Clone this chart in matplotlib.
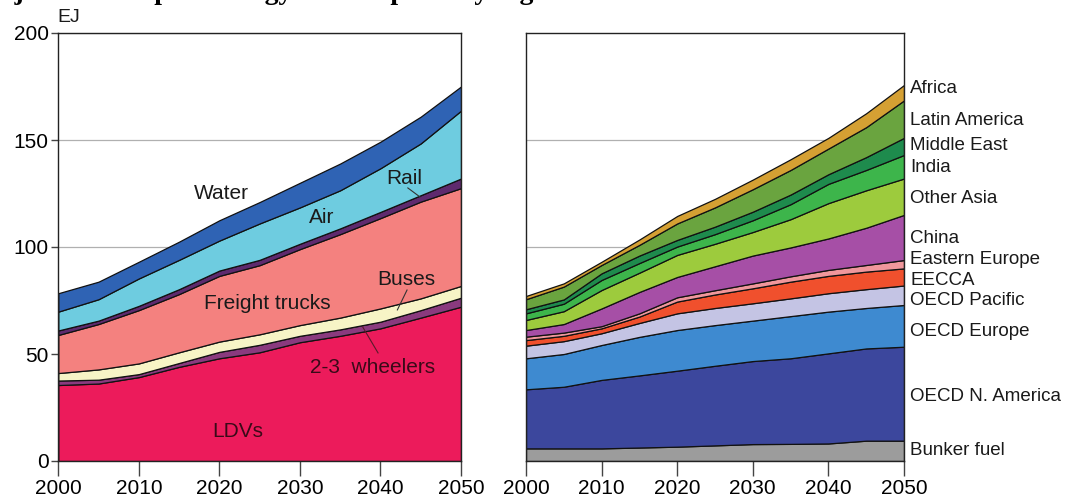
import matplotlib
matplotlib.use("Agg")
import matplotlib.pyplot as plt
import numpy as np

years = [2000, 2005, 2010, 2015, 2020, 2025, 2030, 2035, 2040, 2045, 2050]

# Left panel: by mode (EJ)
sector_names = ["LDVs", "2-3 wheelers", "Buses", "Freight trucks", "Rail", "Air", "Water"]
ldvs    = [35.5, 36.2, 39.2, 44.0, 48.0, 50.8, 55.5, 58.5, 62.0, 67.0, 72.1]
wheel23 = [2.1, 1.8, 1.4, 1.8, 3.0, 3.5, 3.0, 3.0, 3.1, 3.5, 4.2]
buses   = [3.5, 4.8, 5.0, 5.0, 4.8, 4.9, 5.0, 5.5, 6.2, 5.5, 5.5]
freight = [17.8, 21.2, 24.9, 27.2, 30.7, 32.3, 35.5, 39.0, 42.2, 45.2, 45.7]
rail    = [2.1, 1.6, 2.0, 2.3, 2.5, 2.5, 2.5, 2.7, 2.9, 3.0, 4.5]
air     = [8.8, 10.0, 12.8, 13.7, 14.0, 17.0, 17.0, 17.8, 20.4, 24.2, 31.7]
water   = [8.6, 8.2, 7.8, 8.5, 9.5, 10.0, 11.5, 12.5, 12.4, 12.5, 11.3]
sector_colors = ["#EC1B5B", "#8A3A7E", "#F7F4C6", "#F4817F", "#5E2A6E", "#6ECCE0", "#2F63B4"]

# Right panel: by region (EJ)
region_names = ["Bunker fuel", "OECD N. America", "OECD Europe", "OECD Pacific", "EECCA",
                "Eastern Europe", "China", "Other Asia", "India", "Middle East",
                "Latin America", "Africa"]
bunker  = [5.9, 5.9, 5.9, 6.3, 6.7, 7.3, 7.9, 8.0, 8.2, 9.5, 9.5]
oecd_na = [27.6, 28.8, 32.0, 33.7, 35.5, 37.2, 38.8, 40.0, 42.1, 43.1, 43.9]
oecd_eu = [14.5, 15.3, 16.3, 18.0, 19.0, 19.0, 18.9, 19.7, 19.5, 18.9, 19.5]
oecd_pa = [5.9, 6.0, 5.5, 6.5, 7.8, 8.0, 8.1, 8.3, 8.6, 8.8, 9.1]
eecca   = [2.6, 2.5, 2.3, 3.0, 5.5, 6.3, 7.0, 7.8, 8.1, 8.2, 8.0]
east_eu = [1.6, 1.5, 1.0, 1.5, 2.0, 2.0, 2.3, 2.5, 2.8, 3.1, 3.9]
china   = [3.1, 4.0, 8.3, 10.0, 9.5, 11.2, 13.0, 13.5, 14.7, 17.4, 21.1]
oth_asia = [4.7, 6.0, 8.6, 9.0, 10.3, 10.5, 11.0, 13.2, 16.5, 17.5, 17.0]
india   = [3.1, 3.5, 4.7, 4.5, 3.9, 4.5, 5.5, 7.0, 9.0, 9.5, 11.0]
mideast = [1.9, 2.0, 3.1, 3.5, 3.1, 3.5, 4.0, 4.5, 4.5, 6.0, 8.0]
lat_am  = [4.7, 6.0, 3.9, 5.0, 7.7, 9.0, 10.5, 11.5, 12.0, 14.0, 17.5]
africa  = [1.5, 1.5, 1.5, 2.5, 3.5, 4.0, 4.5, 5.0, 5.0, 6.5, 7.2]
region_colors = ["#9C9C9C", "#3C479D", "#3E8AD0", "#C4C4E4", "#F0502D", "#F0979C",
                 "#A64FA6", "#9DCB3D", "#3DB54B", "#1E8B4D", "#6AA43F", "#D5A033"]
region_label_y = [5.0, 30.0, 60.5, 75.0, 84.5, 94.0, 104.0, 122.5, 137.0, 147.5, 159.0, 174.0]

y_ticks = [0, 50, 100, 150, 200]
x_ticks = [2000, 2010, 2020, 2030, 2040, 2050]

W, H = 1068, 501
fig = plt.figure(figsize=(W / 100, H / 100), dpi=100)
plt.rcParams['font.family'] = ['Liberation Sans', 'DejaVu Sans']

def px_axes(x0, x1, y0=461, y1=33):
    return fig.add_axes([x0 / W, (H - y0) / H, (x1 - x0) / W, (y0 - y1) / H])

axL = px_axes(58.3, 461)
axR = px_axes(526, 904)

for ax in (axL, axR):
    ax.set_xlim(2000, 2050)
    ax.set_ylim(0, 200)
    ax.set_yticks([50, 100, 150])
    ax.grid(axis='y', color='#b0b0b0', linewidth=0.9)
    ax.set_axisbelow(True)
    for s in ax.spines.values():
        s.set_linewidth(1.0)
        s.set_color('#222222')
    ax.set_xticks(x_ticks)
    ax.tick_params(axis='x', direction='out', length=11, width=1.0, color='#444444',
                   labelsize=15, pad=2)
    ax.tick_params(axis='y', direction='out', length=5, width=1.0, color='#444444',
                   labelsize=15, pad=2)

axL.set_yticks(y_ticks)
axR.tick_params(axis='y', length=0, labelleft=False)

axL.stackplot(years, ldvs, wheel23, buses, freight, rail, air, water,
              colors=sector_colors, edgecolor='#111111', linewidth=0.9)
axR.stackplot(years, bunker, oecd_na, oecd_eu, oecd_pa, eecca, east_eu, china,
              oth_asia, india, mideast, lat_am, africa,
              colors=region_colors, edgecolor='#111111', linewidth=0.9)

tc = '#1a1a1a'
fs = 15
axL.text(2020.3, 125.2, "Water", ha='center', va='center', fontsize=fs, color=tc)
axL.text(2032.7, 113.6, "Air", ha='center', va='center', fontsize=fs, color=tc)
axL.text(2042.9, 132.2, "Rail", ha='center', va='center', fontsize=fs, color=tc)
axL.text(2026.0, 73.8, "Freight trucks", ha='center', va='center', fontsize=fs, color=tc)
axL.text(2043.2, 84.6, "Buses", ha='center', va='center', fontsize=fs, color=tc)
axL.text(2039.0, 43.9, "2-3  wheelers", ha='center', va='center', fontsize=fs, color='#3a0a18')
axL.text(2022.3, 13.6, "LDVs", ha='center', va='center', fontsize=fs, color='#3a0a18')
axL.plot([2043.4, 2044.9], [127.6, 123.4], color='#333333', linewidth=0.8)
axL.plot([2043.3, 2042.1], [79.9, 70.6], color='#333333', linewidth=0.8)
axL.plot([2039.7, 2037.8], [50.5, 62.6], color='#5a1a2a', linewidth=0.8)

for name, yv in zip(region_names, region_label_y):
    axR.text(2050.8, yv, name, ha='left', va='center', fontsize=13.5, color=tc,
             clip_on=False)

fig.text(57 / W, 1 - 17 / H, "EJ", ha='left', va='center', fontsize=14, color=tc)

fig.text(-28 / W, 1 + 1 / H, "Projected transport energy consumption by region",
         ha='left', va='baseline', fontsize=20, fontweight='bold',
         family='Liberation Serif', color='black')

fig.savefig("out.png", dpi=100)
